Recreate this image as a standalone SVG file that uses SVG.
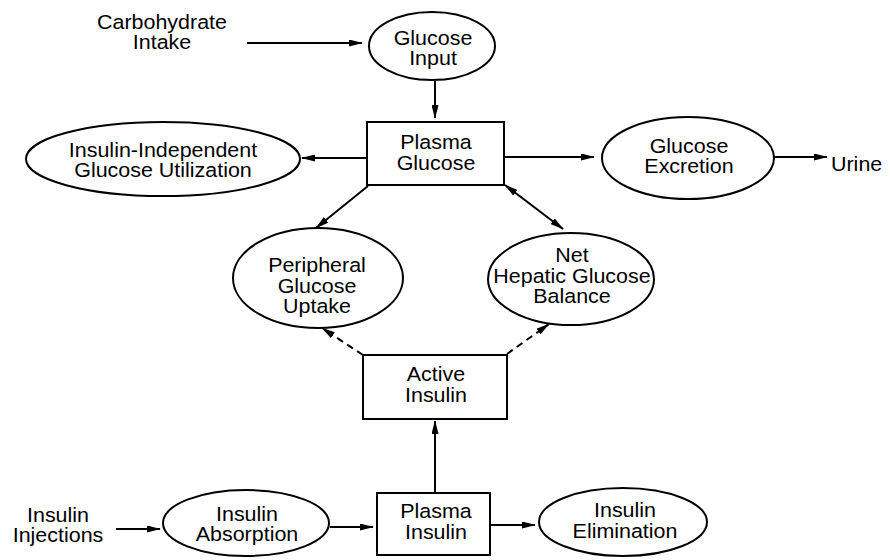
<svg xmlns="http://www.w3.org/2000/svg" width="890" height="560" viewBox="0 0 890 560">
<defs>
<style>
.n{fill:#fff;stroke:#000;stroke-width:2}
.t{font-family:"Liberation Sans",Arial,Helvetica,sans-serif;font-size:19.5px;text-anchor:middle;fill:#000}
.s{text-anchor:start}
.c{stroke:#000;stroke-width:2;fill:none;marker-end:url(#ah)}
.b{marker-start:url(#ah)}
.d{stroke-dasharray:7 5}
</style>
<marker id="ah" viewBox="0 0 14 7" refX="13" refY="3.5" markerWidth="14" markerHeight="7" markerUnits="userSpaceOnUse" orient="auto-start-reverse">
<path d="M0,0 L14,3.5 L0,7 Z" fill="#000"/>
</marker>
</defs>
<rect width="890" height="560" fill="#fff"/>
<g id="connectors">
<line class="c" x1="247" y1="43" x2="362" y2="43"/>
<line class="c" x1="435" y1="81" x2="435" y2="118"/>
<line class="c" x1="367" y1="158" x2="302" y2="158"/>
<line class="c" x1="504" y1="157" x2="594" y2="157"/>
<line class="c" x1="774" y1="157" x2="827" y2="157"/>
<line class="c" x1="368" y1="186" x2="316" y2="228"/>
<line class="c b" x1="505" y1="185" x2="563" y2="229"/>
<line class="c d" x1="363" y1="355" x2="322" y2="328"/>
<line class="c d" x1="507" y1="354" x2="549" y2="324"/>
<line class="c" x1="435" y1="493" x2="435" y2="421"/>
<line class="c" x1="116" y1="529" x2="160" y2="529"/>
<line class="c" x1="330" y1="527" x2="373" y2="527"/>
<line class="c" x1="490" y1="525" x2="535" y2="525"/>
</g>
<g id="carbohydrate-intake">
<text class="t" transform="translate(162,0) scale(1.1,1)" x="0" y="29">Carbohydrate</text>
<text class="t" transform="translate(162,0) scale(1.1,1)" x="0" y="49">Intake</text>
</g>
<g id="glucose-input">
<ellipse class="n" cx="432" cy="46" rx="63" ry="34"/>
<text class="t" transform="translate(433,0) scale(1.1,1)" x="0" y="45">Glucose</text>
<text class="t" transform="translate(433,0) scale(1.1,1)" x="0" y="65">Input</text>
</g>
<g id="plasma-glucose">
<rect class="n" x="367" y="122" width="137" height="63"/>
<text class="t" transform="translate(436,0) scale(1.1,1)" x="0" y="149">Plasma</text>
<text class="t" transform="translate(436,0) scale(1.1,1)" x="0" y="170">Glucose</text>
</g>
<g id="insulin-independent">
<ellipse class="n" cx="163" cy="159" rx="137" ry="37"/>
<text class="t" transform="translate(163,0) scale(1.1,1)" x="0" y="157">Insulin-Independent</text>
<text class="t" transform="translate(163,0) scale(1.1,1)" x="0" y="177">Glucose Utilization</text>
</g>
<g id="glucose-excretion">
<ellipse class="n" cx="688" cy="158" rx="86" ry="41"/>
<text class="t" transform="translate(689,0) scale(1.1,1)" x="0" y="153">Glucose</text>
<text class="t" transform="translate(689,0) scale(1.1,1)" x="0" y="173">Excretion</text>
</g>
<g id="urine">
<text class="t s" transform="translate(831,0) scale(1.1,1)" x="0" y="171">Urine</text>
</g>
<g id="peripheral-glucose-uptake">
<ellipse class="n" cx="318" cy="278" rx="85" ry="50"/>
<text class="t" transform="translate(317,0) scale(1.1,1)" x="0" y="272">Peripheral</text>
<text class="t" transform="translate(317,0) scale(1.1,1)" x="0" y="293">Glucose</text>
<text class="t" transform="translate(317,0) scale(1.1,1)" x="0" y="313">Uptake</text>
</g>
<g id="net-hepatic-glucose-balance">
<ellipse class="n" cx="571" cy="279" rx="83" ry="46"/>
<text class="t" transform="translate(572,0) scale(1.1,1)" x="0" y="262">Net</text>
<text class="t" transform="translate(572,0) scale(1.1,1)" x="0" y="283">Hepatic Glucose</text>
<text class="t" transform="translate(572,0) scale(1.1,1)" x="0" y="303">Balance</text>
</g>
<g id="active-insulin">
<rect class="n" x="363" y="355" width="144" height="64"/>
<text class="t" transform="translate(436,0) scale(1.1,1)" x="0" y="381">Active</text>
<text class="t" transform="translate(436,0) scale(1.1,1)" x="0" y="402">Insulin</text>
</g>
<g id="plasma-insulin">
<rect class="n" x="377" y="493" width="113" height="62"/>
<text class="t" transform="translate(436,0) scale(1.1,1)" x="0" y="518">Plasma</text>
<text class="t" transform="translate(436,0) scale(1.1,1)" x="0" y="539">Insulin</text>
</g>
<g id="insulin-elimination">
<ellipse class="n" cx="623" cy="522" rx="84" ry="34"/>
<text class="t" transform="translate(625,0) scale(1.1,1)" x="0" y="517">Insulin</text>
<text class="t" transform="translate(625,0) scale(1.1,1)" x="0" y="538">Elimination</text>
</g>
<g id="insulin-absorption">
<ellipse class="n" cx="246" cy="523" rx="83" ry="33"/>
<text class="t" transform="translate(247,0) scale(1.1,1)" x="0" y="521">Insulin</text>
<text class="t" transform="translate(247,0) scale(1.1,1)" x="0" y="541">Absorption</text>
</g>
<g id="insulin-injections">
<text class="t" transform="translate(58,0) scale(1.1,1)" x="0" y="522">Insulin</text>
<text class="t" transform="translate(58,0) scale(1.1,1)" x="0" y="542">Injections</text>
</g>
</svg>
